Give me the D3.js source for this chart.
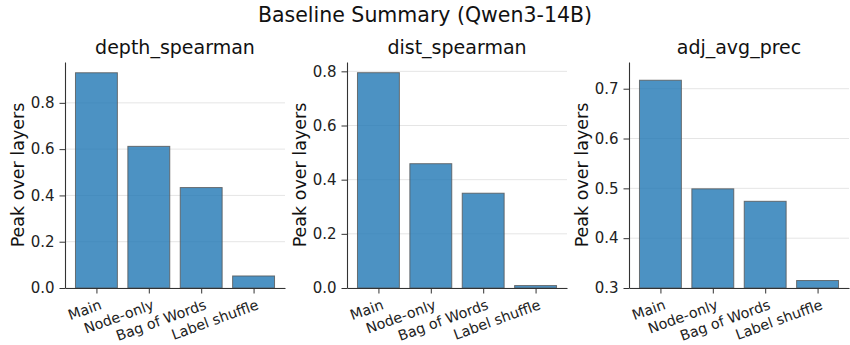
<!DOCTYPE html>
<html>
<head>
  <meta charset="UTF-8" />
  <title>Baseline Summary (Qwen3-14B)</title>
  <style>
    body { margin: 0; background: #fff; font-family: "DejaVu Sans", sans-serif; }
    .bar { fill: #1f77b4; fill-opacity: 0.8; stroke: #555; stroke-opacity: 0.8; stroke-width: 1; }
    .grid line { stroke: #e5e5e5; stroke-width: 1; }
    .axis path, .axis line { stroke: #333; }
    .axis text { fill: #222; font-family: "DejaVu Sans", sans-serif; }
  </style>
</head>
<body>
  <div id="chart"></div>
  <script src="https://d3js.org/d3.v7.min.js"></script>
  <script>
    // données
    const methods = ["Main", "Node-only", "Bag of Words", "Label shuffle"];
    const metrics = ["depth_spearman", "dist_spearman", "adj_avg_prec"];
    const depthValues = [0.930, 0.612, 0.434, 0.052];
    const distValues = [0.795, 0.459, 0.350, 0.009];
    const adjValues = [0.717, 0.499, 0.474, 0.315];
    const depthTicks = [0.0, 0.2, 0.4, 0.6, 0.8];
    const distTicks = [0.0, 0.2, 0.4, 0.6, 0.8];
    const adjTicks = [0.3, 0.4, 0.5, 0.6, 0.7];

    const panels = [
      { title: metrics[0], values: depthValues, ticks: depthTicks, ymin: 0, ymax: 0.9765 },
      { title: metrics[1], values: distValues, ticks: distTicks, ymin: 0, ymax: 0.8345 },
      { title: metrics[2], values: adjValues, ticks: adjTicks, ymin: 0.3, ymax: 0.7536 }
    ];

    const W = 850, H = 345;
    const plotTop = 62, plotBottom = 288;
    const panelLeft = [65, 347, 629], panelW = 220;

    const svg = d3.select("#chart").append("svg")
      .attr("width", W)
      .attr("height", H);

    svg.append("text")
      .attr("x", 425)
      .attr("y", 22)
      .attr("text-anchor", "middle")
      .attr("font-size", "20.5px")
      .attr("fill", "#111")
      .text("Baseline Summary (Qwen3-14B)");

    panels.forEach((p, i) => {
      const g = svg.append("g")
        .attr("transform", `translate(${panelLeft[i]},0)`);

      // équivalent à xlim(-0.6, 3.6), barres de largeur 0.8
      const xs = d3.scaleLinear().domain([-0.6, 3.6]).range([0, panelW]);

      const y = d3.scaleLinear()
        .domain([p.ymin, p.ymax])
        .range([plotBottom, plotTop]);

      // grille
      g.append("g").attr("class", "grid")
        .selectAll("line")
        .data(p.ticks)
        .enter()
        .append("line")
        .attr("x1", 0)
        .attr("x2", panelW)
        .attr("y1", d => y(d))
        .attr("y2", d => y(d));

      g.selectAll("rect")
        .data(p.values)
        .enter()
        .append("rect")
        .attr("class", "bar")
        .attr("x", (d, j) => xs(j - 0.4))
        .attr("y", d => y(d))
        .attr("width", xs(0.4) - xs(-0.4))
        .attr("height", d => plotBottom - y(d));

      // axe y
      const yAxis = g.append("g")
        .attr("class", "axis")
        .call(d3.axisLeft(y).tickValues(p.ticks).tickFormat(d3.format(".1f")).tickSize(5.5).tickPadding(5).tickSizeOuter(0));
      yAxis.selectAll("text").attr("font-size", "15px");
      yAxis.select(".domain").attr("stroke-width", 1.1);

      // axe x
      const xAxis = g.append("g")
        .attr("class", "axis")
        .attr("transform", `translate(0,${plotBottom})`)
        .call(d3.axisBottom(xs).tickValues([0, 1, 2, 3]).tickFormat(j => methods[j]).tickSize(5.5).tickSizeOuter(0));
      xAxis.select(".domain").attr("stroke-width", 1.1);
      xAxis.selectAll("text")
        .attr("font-size", "14.3px")
        .attr("y", 0)
        .attr("dy", "0.72em")
        .attr("text-anchor", "end")
        .attr("transform", "translate(2,11) rotate(-20)");

      g.append("text")
        .attr("x", panelW / 2)
        .attr("y", 54)
        .attr("text-anchor", "middle")
        .attr("font-size", "19px")
        .attr("fill", "#111")
        .text(p.title);

      g.append("text")
        .attr("transform", `translate(-41,${(plotTop + plotBottom) / 2}) rotate(-90)`)
        .attr("text-anchor", "middle")
        .attr("font-size", "17.5px")
        .attr("fill", "#111")
        .text("Peak over layers");
    });
  </script>
</body>
</html>
